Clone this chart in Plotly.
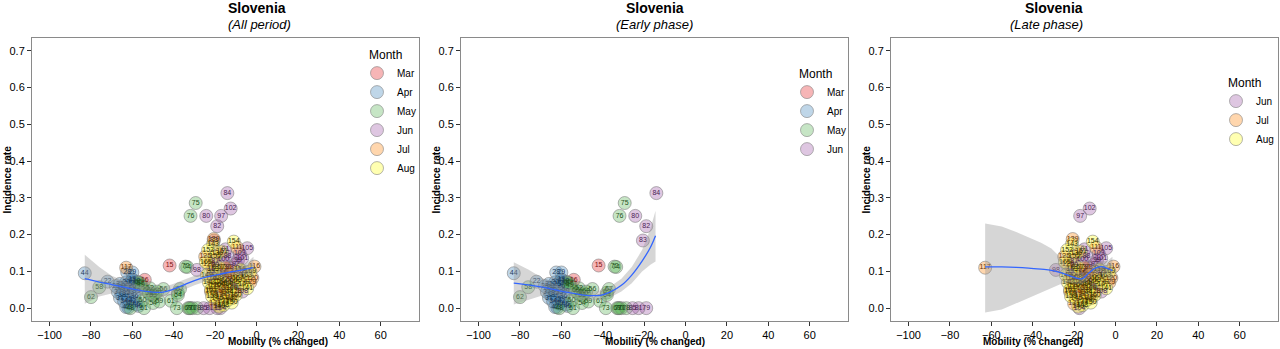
import plotly.graph_objects as go

# ---------------- data ----------------
days = [15, 16,
        18, 19, 20, 21, 22, 23, 24, 25, 26, 27, 28, 29, 30, 31, 32, 33, 34, 35, 36, 37, 38, 39, 40, 41, 42, 43, 44, 45, 46, 47,
        48, 49, 50, 51, 52, 53, 54, 55, 56, 57, 58, 59, 60, 61, 62, 63, 64, 65, 66, 67, 68, 69, 70, 71, 72, 73, 74, 75, 76, 77, 78,
        79, 80, 81, 82, 83, 84, 85,
        86, 87, 88, 89, 90, 91, 92, 93, 94, 95, 96, 97, 98, 99, 100, 101, 102, 103, 104, 105, 106, 107, 108,
        109, 110, 111, 112, 113, 114, 115, 116, 117, 118, 119, 120, 121, 122, 123, 124, 125, 126, 127, 128, 129, 130, 131, 132, 133, 134, 135, 136, 137, 138, 139,
        140, 141, 142, 143, 144, 145, 146, 147, 148, 149, 150, 151, 152, 153, 154, 155, 156, 157, 158, 159, 160, 161, 162, 163, 164, 165, 166, 167, 168, 169, 170]

mobility = [-42, -54,
            -58, -60, -63, -66, -72, -68, -65, -62, -60, -59, -62.5, -60, -64, -66, -63, -61, -64, -62, -59, -67, -65, -58, -61, -60, -60, -62, -83, -58, -57, -63,
            -61, -56, -55, -54.4, -51.5, -50, -50, -52, -45, -56, -76, -47, -49, -41.4, -80, -38, -38, -57, -53, -37, -48, -33, -32, -31, -34.3, -38.5, -33.5, -29.4, -31.9, -32.5, -28.7,
            -19, -24.3, -22.7, -19, -20.6, -14.1, -25.6,
            -16, -20, -14, -19.9, -21, -15, -10, -13, -8, -22, -11, -17.1, -28.8, -9, -16, -6.9, -12.5, -8.1, -17.5, -4.5, -14, -6, -6.9,
            -18, -12, -9.4, -20, -15, -22, -17, -1, -63, -13, -19, -2, -16, -11.8, -21, -14, -24.8, -23, -18, -10, -3, -15, -20, -12, -22, -17, -8, -19, -13, -16, -20.7,
            -18, -4.5, -23, -21, -14, -11, -19, -6, -16, -24, -12, -16.7, -23.4, -21, -11, -20, -8, -18, -21.5, -14, -10, -22, -15, -5, -17, -24.5, -12, -9, -19, -3, -20]

incidence = [0.116, 0.077,
             0.072, 0.078, 0.070, 0.066, 0.072, 0.060, 0.056, 0.064, 0.060, 0.068, 0.097, 0.097, 0.048, 0.028, 0.040, 0.044, 0.018, 0.024, 0.032, 0.044, 0.036, 0.046, 0.012, 0.075, 0.018, 0.002, 0.095, 0.010, 0.006, 0.003,
             0.000, 0.062, 0.022, 0.000, 0.054, 0.034, 0.014, 0.040, 0.052, 0.068, 0.057, 0.018, 0.040, 0.020, 0.030, 0.042, 0.036, 0.070, 0.048, 0.052, 0.045, 0.000, 0.000, 0.000, 0.113, 0.000, 0.112, 0.286, 0.251, 0.000, 0.000,
             0.000, 0.251, 0.000, 0.223, 0.184, 0.313, 0.000,
             0.098, 0.128, 0.140, 0.118, 0.090, 0.160, 0.120, 0.110, 0.092, 0.100, 0.060, 0.251, 0.104, 0.130, 0.132, 0.136, 0.271, 0.149, 0.000, 0.163, 0.075, 0.100, 0.045,
             0.062, 0.085, 0.165, 0.070, 0.050, 0.080, 0.095, 0.113, 0.110, 0.030, 0.040, 0.082, 0.020, 0.027, 0.058, 0.064, 0.140, 0.120, 0.080, 0.045, 0.070, 0.110, 0.012, 0.100, 0.045, 0.035, 0.075, 0.150, 0.090, 0.055, 0.188,
             0.004, 0.054, 0.070, 0.175, 0.042, 0.070, 0.026, 0.065, 0.008, 0.090, 0.015, 0.154, 0.158, 0.105, 0.181, 0.140, 0.105, 0.110, 0.032, 0.022, 0.036, 0.050, 0.068, 0.090, 0.070, 0.125, 0.055, 0.080, 0.085, 0.100, 0.062]

month_names = ["Mar", "Apr", "May", "Jun", "Jul", "Aug"]
month_first_day = [1, 18, 48, 79, 109, 140]
early_last_day = 85

# smoothed fits
all_x = [-83, -76, -70, -63, -57, -51, -46, -41, -36, -30, -24, -18, -12, -6, -1.5]
all_y = [0.080, 0.071, 0.064, 0.056, 0.049, 0.044, 0.043, 0.050, 0.061, 0.075, 0.085, 0.092, 0.099, 0.105, 0.110]
all_lo = [0.012, 0.032, 0.040, 0.040, 0.035, 0.030, 0.029, 0.036, 0.047, 0.062, 0.074, 0.083, 0.090, 0.093, 0.085]
all_hi = [0.145, 0.112, 0.088, 0.072, 0.063, 0.058, 0.057, 0.064, 0.075, 0.088, 0.096, 0.101, 0.108, 0.117, 0.140]

early_x = [-83, -76, -70, -63, -57, -51, -46, -41, -36, -31, -26, -21, -17, -14.5]
early_y = [0.068, 0.063, 0.058, 0.050, 0.043, 0.037, 0.034, 0.035, 0.045, 0.062, 0.090, 0.128, 0.165, 0.197]
early_lo = [0.010, 0.022, 0.033, 0.038, 0.033, 0.026, 0.022, 0.022, 0.030, 0.045, 0.068, 0.100, 0.118, 0.127]
early_hi = [0.125, 0.105, 0.085, 0.063, 0.053, 0.048, 0.046, 0.048, 0.060, 0.080, 0.112, 0.158, 0.215, 0.265]

late_x = [-63, -55, -48, -42, -36, -31, -27, -23, -19, -16, -13, -10, -7, -4, -1.5]
late_y = [0.112, 0.112, 0.111, 0.109, 0.106, 0.103, 0.097, 0.090, 0.082, 0.080, 0.095, 0.108, 0.113, 0.108, 0.102]
late_lo = [-0.012, -0.004, 0.012, 0.028, 0.042, 0.054, 0.064, 0.070, 0.066, 0.064, 0.080, 0.094, 0.098, 0.088, 0.065]
late_hi = [0.230, 0.222, 0.207, 0.192, 0.178, 0.162, 0.140, 0.112, 0.098, 0.095, 0.110, 0.122, 0.128, 0.128, 0.140]

x_ticks = [-100, -80, -60, -40, -20, 0, 20, 40, 60]
y_ticks = [0.0, 0.1, 0.2, 0.3, 0.4, 0.5, 0.6, 0.7]

# ---------------- styling ----------------
FONT = "Liberation Sans"
fill_cols = {"Mar": "rgba(228,26,28,0.32)", "Apr": "rgba(55,126,184,0.32)", "May": "rgba(77,175,74,0.32)",
             "Jun": "rgba(152,78,163,0.32)", "Jul": "rgba(255,127,0,0.32)", "Aug": "rgba(255,255,51,0.38)"}
text_cols = {"Mar": "#7a1214", "Apr": "#1b3c5e", "May": "#1f5220", "Jun": "#4a2352", "Jul": "#5e3000", "Aug": "#303000"}


def month_of(d):
    m = month_names[0]
    for name, first in zip(month_names, month_first_day):
        if d >= first:
            m = name
    return m


panels = [
    ("All period", lambda d: True, (all_x, all_y, all_lo, all_hi)),
    ("Early phase", lambda d: d <= early_last_day, (early_x, early_y, early_lo, early_hi)),
    ("Late phase", lambda d: d > early_last_day, (late_x, late_y, late_lo, late_hi)),
]

L, R, T, B = 32, 2, 38, 28
W = 1280 - L - R
H = 349 - T - B
px_domains = [(32, 419), (461, 848), (891, 1278)]
domains = [((a - L) / W, (b - L) / W) for a, b in px_domains]
legend_px = [(357, 43), (787, 62), (1216, 71)]
TITLE_LEAD = "\u00a0" * 3

fig = go.Figure()
annotations = []
layout = {}

for i, (title, sel, smooth) in enumerate(panels):
    k = "" if i == 0 else str(i + 1)
    xa, ya = "x" + k, "y" + k
    leg = "legend" + k
    idx = [j for j, d in enumerate(days) if sel(d)]
    months_present = [m for m in month_names if any(month_of(days[j]) == m for j in idx)]
    for m in months_present:
        jj = [j for j in idx if month_of(days[j]) == m]
        fig.add_trace(go.Scatter(
            x=[mobility[j] for j in jj], y=[incidence[j] for j in jj],
            mode="markers", name=m, legend=leg, xaxis=xa, yaxis=ya,
            marker=dict(size=13, color=fill_cols[m], line=dict(color="rgba(120,120,120,0.55)", width=1)),
            hoverinfo="skip"))
    fig.add_trace(go.Scatter(
        x=[mobility[j] for j in idx], y=[incidence[j] for j in idx],
        mode="text", text=[str(days[j]) for j in idx], textposition="middle center",
        textfont=dict(size=7, family=FONT, color=[text_cols[month_of(days[j])] for j in idx]),
        showlegend=False, xaxis=xa, yaxis=ya, hoverinfo="skip"))
    sx, sy, slo, shi = smooth
    fig.add_trace(go.Scatter(x=sx + sx[::-1], y=shi + slo[::-1], fill="toself",
                             fillcolor="rgba(153,153,153,0.4)", line=dict(width=0),
                             mode="lines", showlegend=False, xaxis=xa, yaxis=ya, hoverinfo="skip"))
    fig.add_trace(go.Scatter(x=sx, y=sy, mode="lines", line=dict(color="#3366FF", width=1.3, shape="spline"),
                             showlegend=False, xaxis=xa, yaxis=ya, hoverinfo="skip"))

    axis_common = dict(showline=True, linecolor="#8a8a8a", linewidth=1, mirror=True, showgrid=False,
                       zeroline=False, ticks="outside", ticklen=4, tickcolor="#333333", tickwidth=1,
                       tickfont=dict(family=FONT, size=11, color="black"))
    layout["xaxis" + k] = dict(axis_common, domain=list(domains[i]), range=[-108.5, 78.5],
                               tickvals=x_ticks, ticktext=[("\u2212" + str(-v)) if v < 0 else str(v) for v in x_ticks],
                               anchor=ya)
    layout["yaxis" + k] = dict(axis_common, domain=[0, 1], range=[-0.035, 0.735],
                               tickvals=y_ticks, ticktext=["%.1f" % v for v in y_ticks], anchor=xa)
    lx, ly = legend_px[i]
    layout[leg] = dict(x=(lx - L) / W, y=1 - (ly - T) / H, xanchor="left", yanchor="top",
                       bgcolor="rgba(0,0,0,0)", title=dict(text=TITLE_LEAD + "Month", font=dict(family=FONT, size=12)),
                       font=dict(family=FONT, size=10, color="black"), itemwidth=30, tracegroupgap=0)

    cx = (domains[i][0] + domains[i][1]) / 2
    annotations.append(dict(text="<b>Slovenia</b>", x=cx, y=1 + (T - 8) / H, xref="paper", yref="paper",
                            showarrow=False, font=dict(family=FONT, size=14, color="black"), yanchor="middle"))
    annotations.append(dict(text="<i>(%s)</i>" % title, x=cx, y=1 + (T - 24) / H, xref="paper", yref="paper",
                            showarrow=False, font=dict(family=FONT, size=13, color="black"), yanchor="middle"))
    annotations.append(dict(text="<b>Mobility (% changed)</b>", x=cx, y=-(341 - (349 - B)) / H, xref="paper",
                            yref="paper", showarrow=False, font=dict(family=FONT, size=10, color="black"),
                            yanchor="middle"))
    ax_px = px_domains[i][0] - 25
    annotations.append(dict(text="<b>Incidence rate</b>", x=(ax_px - L) / W, y=0.5, xref="paper", yref="paper",
                            showarrow=False, textangle=-90, font=dict(family=FONT, size=10, color="black"),
                            xanchor="center", yanchor="middle"))

fig.update_layout(width=1280, height=349, margin=dict(l=L, r=R, t=T, b=B, autoexpand=False),
                  paper_bgcolor="white", plot_bgcolor="white", annotations=annotations, **layout)

fig.write_html("out.html", config={"displayModeBar": False},
               post_script="document.body.style.margin='0';document.body.style.overflow='hidden';")
